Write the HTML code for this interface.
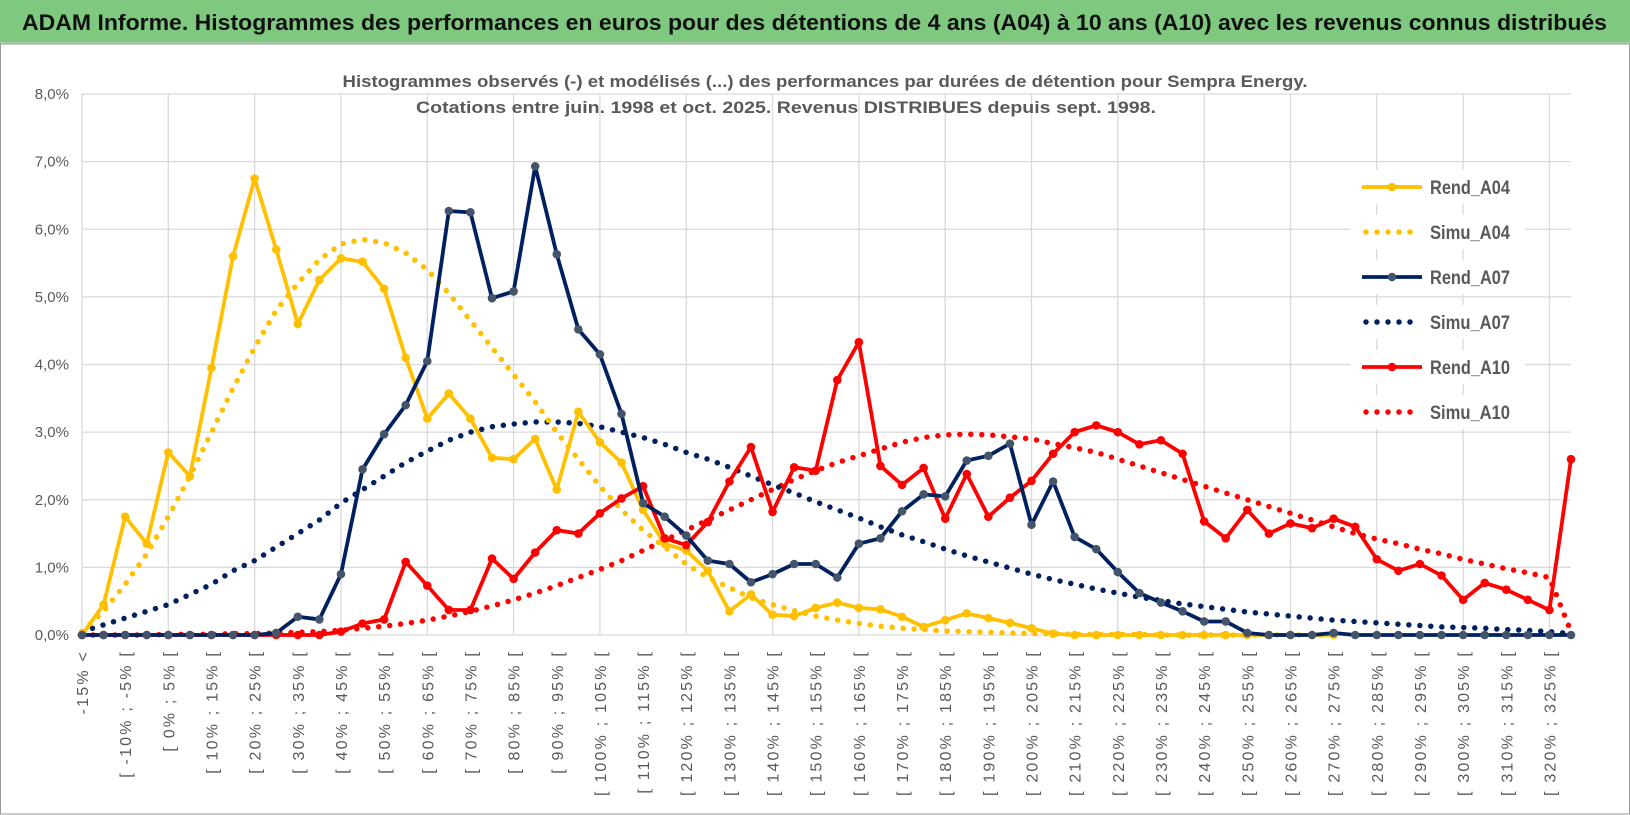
<!DOCTYPE html>
<html><head><meta charset="utf-8">
<style>
body{margin:0;background:#fff;}
#wrap{position:relative;width:1630px;height:815px;overflow:hidden;background:#fff;font-family:"Liberation Sans",sans-serif;}
</style></head><body>
<div id="wrap">
<svg id="chart" width="1630" height="815" style="position:absolute;left:0;top:0">
<rect x="0" y="0" width="1630" height="43" fill="#7ec87f"/>
<line x1="0" x2="1630" y1="43.5" y2="43.5" stroke="#d0d0d0" stroke-width="2"/>
<text x="22" y="30" font-size="22" font-weight="bold" fill="#111" textLength="1585" lengthAdjust="spacingAndGlyphs">ADAM Informe. Histogrammes des performances en euros pour des détentions de 4 ans (A04) à 10 ans (A10) avec les revenus connus distribués</text>
</svg>
</div>
<script>
const rendA04=[0,0.45,1.75,1.35,2.7,2.35,3.95,5.6,6.75,5.7,4.6,5.25,5.57,5.52,5.12,4.1,3.2,3.57,3.2,2.62,2.6,2.9,2.15,3.3,2.85,2.55,1.85,1.35,1.25,0.95,0.35,0.6,0.3,0.28,0.4,0.48,0.4,0.38,0.27,0.12,0.22,0.32,0.25,0.18,0.1,0.02,0,0,0,0,0,0,0,0,0,0,0,0,0,null,null,null,null,null,null,null,null,null,null,null];
const simuA04=[0.05,0.35,0.75,1.2,1.75,2.35,3.0,3.65,4.25,4.8,5.2,5.55,5.78,5.85,5.8,5.65,5.4,5.05,4.65,4.25,3.85,3.45,3.0,2.6,2.2,1.85,1.55,1.3,1.05,0.85,0.7,0.55,0.45,0.36,0.28,0.22,0.17,0.13,0.1,0.08,0.06,0.05,0.04,0.03,0.02,0.02,0.01,0.01,0.01,0.01,0,0,0,0,0,0,0,0,0,null,null,null,null,null,null,null,null,null,null,null];
const rendA07=[0,0,0,0,0,0,0,0,0,0.03,0.27,0.23,0.9,2.45,2.97,3.4,4.05,6.27,6.25,4.98,5.08,6.93,5.63,4.52,4.15,3.27,1.95,1.75,1.47,1.1,1.05,0.78,0.9,1.05,1.05,0.85,1.35,1.43,1.83,2.08,2.05,2.58,2.65,2.83,1.63,2.27,1.45,1.27,0.93,0.62,0.48,0.35,0.2,0.2,0.03,0,0,0,0.03,0,0,0,0,0,0,0,0,0,0,0];
const simuA07=[0.05,0.15,0.25,0.35,0.45,0.6,0.75,0.95,1.1,1.3,1.5,1.7,1.95,2.15,2.35,2.55,2.72,2.88,3.0,3.08,3.12,3.15,3.15,3.13,3.08,3.0,2.92,2.82,2.7,2.6,2.48,2.35,2.22,2.1,1.97,1.85,1.73,1.6,1.48,1.38,1.27,1.17,1.08,0.99,0.9,0.82,0.75,0.68,0.62,0.56,0.51,0.46,0.42,0.38,0.34,0.31,0.28,0.25,0.22,0.2,0.18,0.16,0.14,0.12,0.11,0.1,0.08,0.07,0.05,0.02];
const rendA10=[0,0,0,0,0,0,0,0,0,0,0,0,0.05,0.17,0.23,1.08,0.73,0.37,0.37,1.13,0.83,1.22,1.55,1.5,1.8,2.02,2.2,1.43,1.33,1.67,2.27,2.78,1.82,2.48,2.43,3.77,4.33,2.5,2.22,2.47,1.72,2.38,1.75,2.03,2.28,2.68,3.0,3.1,3.0,2.82,2.88,2.68,1.68,1.43,1.85,1.5,1.65,1.58,1.72,1.6,1.12,0.95,1.05,0.88,0.52,0.77,0.67,0.52,0.37,2.6];
const simuA10=[0,0,0,0,0.01,0.01,0.01,0.02,0.02,0.03,0.04,0.05,0.07,0.1,0.13,0.17,0.22,0.28,0.35,0.43,0.52,0.62,0.73,0.85,0.97,1.1,1.25,1.4,1.55,1.7,1.85,2.0,2.15,2.3,2.43,2.55,2.65,2.75,2.85,2.92,2.96,2.97,2.96,2.93,2.9,2.83,2.77,2.7,2.6,2.5,2.4,2.3,2.2,2.1,2.0,1.9,1.8,1.7,1.6,1.5,1.42,1.35,1.27,1.2,1.12,1.05,0.98,0.92,0.85,0.05];
const yTicks=[0,1,2,3,4,5,6,7,8];
const categories=["-15% <"];
for(let k=1;k<=68;k++){categories.push("[ "+(-20+5*k)+"% ; "+(-15+5*k)+"% [");}
categories.push("> 325%");

const NS="http://www.w3.org/2000/svg";
const svg=document.getElementById('chart');
const X0=82,X1=1571,Y0=635,Y8=94;
const n=categories.length;
function xs(i){return X0+(X1-X0)*i/(n-1);}
function ys(v){return Y0-(Y0-Y8)*v/8;}
function mk(tag,attrs,parent){const e=document.createElementNS(NS,tag);for(const k in attrs)e.setAttribute(k,attrs[k]);(parent||svg).appendChild(e);return e;}

const border=mk('rect',{x:0.5,y:44,width:1629,height:770,fill:'none',stroke:'#999'});



const grid=mk('g',{});


yTicks.forEach(t=>{
  const l=mk('line',{x1:X0,x2:X1,y1:ys(t),y2:ys(t),stroke:'#d9d9d9','stroke-width':1.3},grid);
  
  
  const tx=mk('text',{x:X0-13,y:ys(t)+5,'text-anchor':'end','font-size':15,fill:'#595959'});
  tx.textContent=t.toFixed(1).replace('.',',')+'%';
  
  
});
for(let i=0;i<n;i+=4){
  const l=mk('line',{x1:xs(i),x2:xs(i),y1:Y8,y2:Y0,stroke:'#d9d9d9','stroke-width':1.3},grid);
  
  
}
categories.forEach((c,i)=>{
  if(i%2!==0)return;
  const t=mk('text',{transform:`translate(${xs(i)+6},${Y0+15}) rotate(-90)`,'text-anchor':'end','font-size':16,'letter-spacing':2.2,fill:'#595959'});
  t.textContent=c;
  
  
});

const st1=mk('text',{x:825,y:87,'text-anchor':'middle','font-size':17,'font-weight':'bold',fill:'#595959',textLength:965,lengthAdjust:'spacingAndGlyphs'});
st1.textContent="Histogrammes observés (-) et modélisés (...) des performances par durées de détention pour Sempra Energy.";


const st2=mk('text',{x:786,y:113,'text-anchor':'middle','font-size':17,'font-weight':'bold',fill:'#595959',textLength:740,lengthAdjust:'spacingAndGlyphs'});
st2.textContent="Cotations entre juin. 1998 et oct. 2025. Revenus DISTRIBUES depuis sept. 1998.";



function pathOf(data){let d='';let s=false;data.forEach((v,i)=>{if(v===null){s=false;return;}d+=(s?'L':'M')+xs(i)+','+ys(v);s=true;});return d;}
function drawLine(data,color,markerColor,name){
  const g=mk('g',{});
  
  
  const p=mk('path',{d:pathOf(data),fill:'none',stroke:color,'stroke-width':3.8,'stroke-linejoin':'round'},g);
  
  
  data.forEach((v,i)=>{if(v===null)return;
    const c=mk('circle',{cx:xs(i),cy:ys(v),r:4.3,fill:markerColor},g);
    
    
  });
}
function drawDots(data,color,name){
  const g=mk('g',{});
  
  
  const p=mk('path',{d:pathOf(data),fill:'none',stroke:color,'stroke-width':5.5,'stroke-linecap':'round','stroke-dasharray':'0 11'},g);
  
  
}
drawDots(simuA10,'#ff0000','simu-a10');
drawDots(simuA07,'#002060','simu-a07');
drawDots(simuA04,'#ffc000','simu-a04');
drawLine(rendA04,'#ffc000','#ffc000','rend-a04');
drawLine(rendA10,'#ff0000','#ff0000','rend-a10');
drawLine(rendA07,'#002060','#44546a','rend-a07');

const legend=mk('g',{});


const items=[["Rend_A04",'#ffc000',false],["Simu_A04",'#ffc000',true],["Rend_A07",'#002060',false],["Simu_A07",'#002060',true],["Rend_A10",'#ff0000',false],["Simu_A10",'#ff0000',true]];
items.forEach((it,k)=>{
  const y=187+k*45;
  const g=mk('g',{},legend);
  
  
  mk('rect',{x:1350,y:y-17,width:175,height:34,fill:'#fff'},g);
  if(it[2]){
    mk('line',{x1:1366,x2:1420,y1:y,y2:y,stroke:it[1],'stroke-width':5.5,'stroke-linecap':'round','stroke-dasharray':'0 11'},g);
  }else{
    mk('line',{x1:1362,x2:1422,y1:y,y2:y,stroke:it[1],'stroke-width':3.8},g);
    mk('circle',{cx:1392,cy:y,r:4.3,fill:it[1]==='#002060'?'#44546a':it[1]},g);
  }
  const t=mk('text',{x:1430,y:y+7,'font-size':19,'font-weight':'bold',fill:'#595959',textLength:80,lengthAdjust:'spacingAndGlyphs'},g);
  t.textContent=it[0];
});
</script>
</body></html>
